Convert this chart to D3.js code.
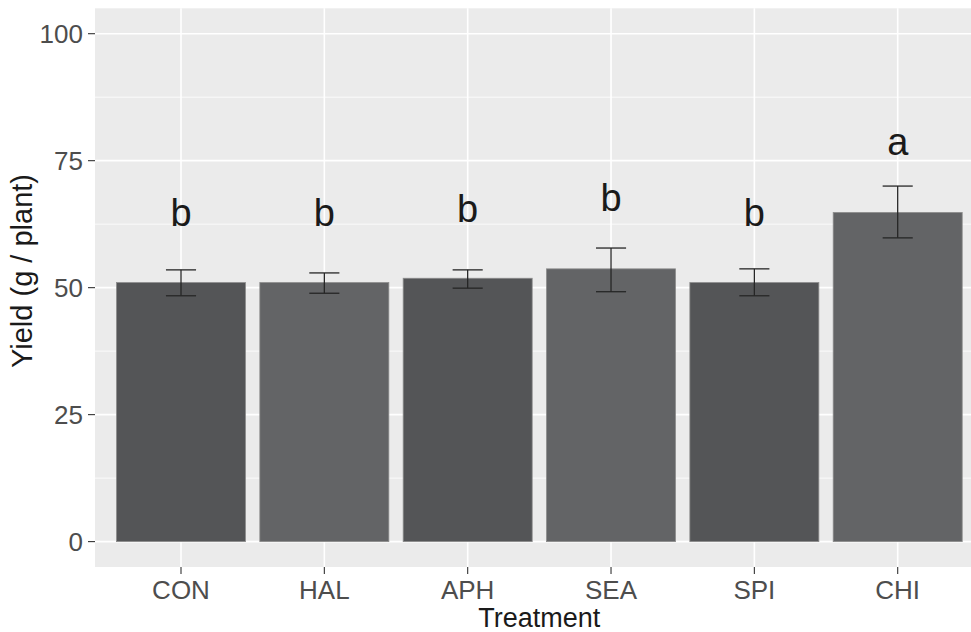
<!DOCTYPE html>
<html>
<head>
<meta charset="utf-8">
<script src="https://cdn.jsdelivr.net/npm/d3@7"></script>
<style>
  body { margin: 0; background: #fff; }
  svg { display: block; font-family: "Liberation Sans", Arial, sans-serif; }
</style>
</head>
<body>
<div id="chart"></div>
<script>
// data
var treatments = ["CON", "HAL", "APH", "SEA", "SPI", "CHI"];
var yieldMean = [51.0, 51.0, 51.85, 53.7, 51.0, 64.8];
var errUpper = [53.5, 52.9, 53.5, 57.8, 53.7, 70.0];
var errLower = [48.4, 48.9, 49.9, 49.2, 48.4, 59.8];
var letters = ["b", "b", "b", "b", "b", "a"];
var letterY = [62.2, 62.2, 63.0, 65.0, 62.2, 76.1];
var yTicks = [0, 25, 50, 75, 100];
var yMinor = [12.5, 37.5, 62.5, 87.5];

var svgWidth = 971;
var svgHeight = 632;

var svg = d3.select("#chart")
    .append("svg")
    .attr("width", svgWidth)
    .attr("height", svgHeight);

// panel runs past the right edge in the original
var panelLeft = 95, panelRight = 983.7, panelTop = 8.3, panelBottom = 567;

var x = d3.scaleLinear().domain([0.4, 6.6]).range([panelLeft, panelRight]);
var y = d3.scaleLinear().domain([-5, 105]).range([panelBottom, panelTop]);
var step = x(2) - x(1);
var barW = step * 0.9;
var capW = step * 0.21;

var data = treatments.map(function(t, i) {
    return {name: t, i: i + 1, mean: yieldMean[i], hi: errUpper[i], lo: errLower[i],
            letter: letters[i], ly: letterY[i]};
});

// panel background
svg.append("rect")
    .attr("x", panelLeft).attr("y", panelTop)
    .attr("width", panelRight - panelLeft).attr("height", panelBottom - panelTop)
    .attr("fill", "#ebebeb");

// grid
var grid = svg.append("g");
grid.selectAll(".minor").data(yMinor).enter().append("line")
    .attr("x1", panelLeft).attr("x2", panelRight)
    .attr("y1", function(d) { return y(d); }).attr("y2", function(d) { return y(d); })
    .attr("stroke", "#fff").attr("stroke-width", 0.8);
grid.selectAll(".major").data(yTicks).enter().append("line")
    .attr("x1", panelLeft).attr("x2", panelRight)
    .attr("y1", function(d) { return y(d); }).attr("y2", function(d) { return y(d); })
    .attr("stroke", "#fff").attr("stroke-width", 1.6);
grid.selectAll(".vmajor").data(data).enter().append("line")
    .attr("x1", function(d) { return x(d.i); }).attr("x2", function(d) { return x(d.i); })
    .attr("y1", panelTop).attr("y2", panelBottom)
    .attr("stroke", "#fff").attr("stroke-width", 1.6);

// bars
svg.selectAll(".bar").data(data).enter().append("rect")
    .attr("x", function(d) { return x(d.i) - barW / 2; })
    .attr("y", function(d) { return y(d.mean); })
    .attr("width", barW)
    .attr("height", function(d) { return y(0) - y(d.mean); })
    .attr("fill", function(d) { return d.i % 2 === 1 ? "#545557" : "#636466"; })
    .attr("stroke", "#8c8c8c")
    .attr("stroke-width", 0.8);

// error bars
var eb = svg.selectAll(".err").data(data).enter().append("g")
    .attr("stroke", "#262626").attr("stroke-width", 1.3);
eb.append("line")
    .attr("x1", function(d) { return x(d.i); }).attr("x2", function(d) { return x(d.i); })
    .attr("y1", function(d) { return y(d.hi); }).attr("y2", function(d) { return y(d.lo); });
eb.append("line")
    .attr("x1", function(d) { return x(d.i) - capW / 2; }).attr("x2", function(d) { return x(d.i) + capW / 2; })
    .attr("y1", function(d) { return y(d.hi); }).attr("y2", function(d) { return y(d.hi); });
eb.append("line")
    .attr("x1", function(d) { return x(d.i) - capW / 2; }).attr("x2", function(d) { return x(d.i) + capW / 2; })
    .attr("y1", function(d) { return y(d.lo); }).attr("y2", function(d) { return y(d.lo); });

// letters
svg.selectAll(".letter").data(data).enter().append("text")
    .attr("x", function(d) { return x(d.i); })
    .attr("y", function(d) { return y(d.ly); })
    .attr("text-anchor", "middle")
    .attr("font-size", "38px")
    .attr("fill", "#1a1a1a")
    .text(function(d) { return d.letter; });

// y axis
var yAxis = svg.append("g").attr("transform", "translate(" + panelLeft + ",0)");
yAxis.selectAll("line").data(yTicks).enter().append("line")
    .attr("x1", -7).attr("x2", 0)
    .attr("y1", function(d) { return y(d); }).attr("y2", function(d) { return y(d); })
    .attr("stroke", "#333").attr("stroke-width", 1.1);
yAxis.selectAll("text").data(yTicks).enter().append("text")
    .attr("x", -12)
    .attr("y", function(d) { return y(d) + 9.5; })
    .attr("text-anchor", "end")
    .attr("font-size", "26px")
    .attr("fill", "#4d4d4d")
    .text(function(d) { return d; });

// x axis
var xAxis = svg.append("g").attr("transform", "translate(0," + panelBottom + ")");
xAxis.selectAll("line").data(data).enter().append("line")
    .attr("x1", function(d) { return x(d.i); }).attr("x2", function(d) { return x(d.i); })
    .attr("y1", 0).attr("y2", 7)
    .attr("stroke", "#333").attr("stroke-width", 1.1);
xAxis.selectAll("text").data(data).enter().append("text")
    .attr("x", function(d) { return x(d.i); })
    .attr("y", 32)
    .attr("text-anchor", "middle")
    .attr("font-size", "26px")
    .attr("fill", "#4d4d4d")
    .text(function(d) { return d.name; });

// axis titles
svg.append("text")
    .attr("x", (panelLeft + panelRight) / 2)
    .attr("y", 626.5)
    .attr("text-anchor", "middle")
    .attr("font-size", "27px")
    .attr("fill", "#1a1a1a")
    .text("Treatment");

svg.append("text")
    .attr("transform", "translate(32,271) rotate(-90)")
    .attr("text-anchor", "middle")
    .attr("font-size", "29px")
    .attr("fill", "#1a1a1a")
    .text("Yield (g / plant)");
</script>
</body>
</html>
